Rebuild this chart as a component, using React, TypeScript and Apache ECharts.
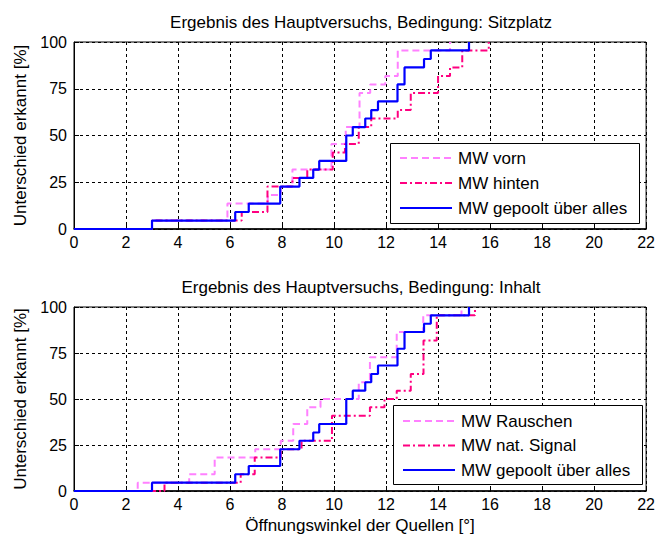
import React, { useEffect, useRef } from "react";
import * as echarts from "echarts";

// ---------- data (step corners: x where curve rises, new level in %) ----------
// Pooled curve ("MW gepoolt über alles") – identical in both panels
const pooledX = [0, 3, 6.2, 6.72, 7.93, 8.67, 9.2, 9.43, 10.47, 10.72, 11.2, 11.43, 11.69, 12.44, 12.71, 13.46, 13.72, 15.19];
const pooledY = [0, 4.5, 9.1, 13.6, 22.7, 27.3, 31.8, 36.4, 50, 54.5, 59.1, 63.6, 68.2, 77.3, 86.4, 90.9, 95.5, 100];

// Top panel: Sitzplatz
const vornX = [0, 3, 5.9, 7.45, 7.95, 8.4, 9.9, 10.45, 10.98, 11.39, 11.97, 12.45, 14.46];
const vornY = [0, 4.5, 13.6, 18.2, 22.7, 31.8, 45.5, 54.5, 72.7, 77.3, 81.8, 95.5, 100];
const hintenX = [0, 3, 6.45, 7.44, 8.4, 8.97, 9.95, 10.42, 10.95, 11.43, 12.45, 12.95, 14.0, 14.46, 14.93, 15.95];
const hintenY = [0, 4.5, 9.1, 22.7, 27.3, 31.8, 40.9, 45.5, 54.5, 59.1, 63.6, 72.7, 81.8, 86.4, 95.5, 100];

// Bottom panel: Inhalt
const rauschenX = [0, 2.45, 4.43, 5.41, 6.97, 7.95, 8.43, 8.97, 9.48, 10.95, 11.38, 12.41, 13.43, 14.9];
const rauschenY = [0, 4.5, 9.1, 18.2, 22.7, 27.3, 36.4, 45.5, 50, 59.1, 72.7, 86.4, 95.5, 100];
const signalX = [0, 3.48, 6.41, 6.95, 7.95, 8.75, 9.92, 11.38, 11.94, 12.41, 12.95, 13.44, 13.95, 15.42];
const signalY = [0, 4.5, 9.1, 18.2, 22.7, 27.3, 40.9, 45.5, 50, 54.5, 63.6, 81.8, 95.5, 100];

const titles = [
  "Ergebnis des Hauptversuchs, Bedingung: Sitzplatz",
  "Ergebnis des Hauptversuchs, Bedingung: Inhalt",
];
const yAxisName = "Unterschied erkannt [%]";
const xAxisName = "Öffnungswinkel der Quellen [°]";
const topLegend = ["MW vorn", "MW hinten", "MW gepoolt über alles"];
const bottomLegend = ["MW Rauschen", "MW nat. Signal", "MW gepoolt über alles"];

const xMin = 0, xMax = 22, xStep = 2;
const yMin = 0, yMax = 100, yStep = 25;

// ---------- styles ----------
const PINK = "#FF80FF";
const RED = "#FF0080";
const BLUE = "#0000FF";
const FONT = "'Liberation Sans', Arial, Helvetica, sans-serif";
const DASH = [7, 4];
const DASHDOT = [7, 3, 2, 3];

const pairs = (xs: number[], ys: number[]) => xs.map((x, i) => [x, ys[i]]);

export default function App() {
  const ref = useRef<HTMLDivElement>(null);

  useEffect(() => {
    const chart = echarts.init(ref.current!, null, { renderer: "svg" });

    const grids = [
      { left: 74, top: 42, width: 574, height: 187 },
      { left: 74, top: 307, width: 574, height: 184 },
    ];

    const xAxis = grids.map((_, gi) => ({
      type: "value",
      gridIndex: gi,
      min: xMin,
      max: xMax,
      interval: xStep,
      name: gi === 1 ? xAxisName : "",
      nameLocation: "middle",
      nameGap: 26,
      nameTextStyle: { fontSize: 17, color: "#000", fontFamily: FONT },
      axisLine: { show: true, onZero: false, lineStyle: { color: "#000", width: 1.5 } },
      axisTick: { show: true, inside: true, length: 5, lineStyle: { color: "#000" } },
      axisLabel: { color: "#000", fontSize: 16, fontFamily: FONT, margin: 5 },
      splitLine: { show: true, lineStyle: { color: "#000", type: [3, 3], width: 1 } },
    }));

    const yAxis = grids.map((_, gi) => ({
      type: "value",
      gridIndex: gi,
      min: yMin,
      max: yMax,
      interval: yStep,
      name: yAxisName,
      nameLocation: "middle",
      nameGap: 44,
      nameRotate: 90,
      nameTextStyle: { fontSize: 17, color: "#000", fontFamily: FONT },
      axisLine: { show: true, lineStyle: { color: "#000", width: 1 } },
      axisTick: { show: true, inside: true, length: 5, lineStyle: { color: "#000" } },
      axisLabel: { color: "#000", fontSize: 16, fontFamily: FONT, margin: 7 },
      splitLine: { show: true, lineStyle: { color: "#000", type: [3, 3], width: 1 } },
    }));

    const mk = (name: string, xs: number[], ys: number[], gi: number, color: string, dash: any, w: number) => ({
      name,
      type: "line",
      step: "end",
      xAxisIndex: gi,
      yAxisIndex: gi,
      data: pairs(xs, ys),
      showSymbol: false,
      symbol: "none",
      lineStyle: { color, width: w, type: dash },
      itemStyle: { color },
      z: 3,
    });

    const series = [
      mk(topLegend[0], vornX, vornY, 0, PINK, DASH, 2),
      mk(topLegend[1], hintenX, hintenY, 0, RED, DASHDOT, 2),
      mk(topLegend[2], pooledX, pooledY, 0, BLUE, "solid", 2.2),
      mk(bottomLegend[0], rauschenX, rauschenY, 1, PINK, DASH, 2),
      mk(bottomLegend[1], signalX, signalY, 1, RED, DASHDOT, 2),
      mk(bottomLegend[2], pooledX, pooledY, 1, BLUE, "solid", 2.2),
    ];

    const legendBox = (
      labels: string[],
      box: { x: number; y: number; w: number; h: number },
      rows: number[],
      lineX: [number, number],
      textX: number
    ) => {
      const styles = [
        { stroke: PINK, lineDash: DASH },
        { stroke: RED, lineDash: DASHDOT },
        { stroke: BLUE, lineDash: null },
      ];
      const els: any[] = [
        {
          type: "rect",
          shape: { x: box.x + 0.5, y: box.y + 0.5, width: box.w, height: box.h },
          style: { fill: "#fff", stroke: "#000", lineWidth: 1 },
          z: 100,
        },
      ];
      labels.forEach((t, i) => {
        els.push({
          type: "line",
          shape: { x1: lineX[0], y1: rows[i], x2: lineX[1], y2: rows[i] },
          style: { stroke: styles[i].stroke, lineWidth: 2, lineDash: styles[i].lineDash || undefined },
          z: 101,
        });
        els.push({
          type: "text",
          x: textX,
          y: rows[i],
          style: { text: t, fill: "#000", fontSize: 17, fontFamily: FONT, verticalAlign: "middle", align: "left" },
          z: 101,
        });
      });
      return els;
    };

    chart.setOption({
      animation: false,
      backgroundColor: "#fff",
      title: [
        {
          text: titles[0],
          left: 361,
          top: 14,
          textAlign: "center",
          padding: 0,
          textStyle: { fontSize: 17, fontWeight: "normal", color: "#000", fontFamily: FONT },
        },
        {
          text: titles[1],
          left: 361,
          top: 279,
          textAlign: "center",
          padding: 0,
          textStyle: { fontSize: 17, fontWeight: "normal", color: "#000", fontFamily: FONT },
        },
      ],
      grid: grids.map((g) => ({
        ...g,
        show: true,
        borderColor: "#000",
        borderWidth: 1,
        backgroundColor: "#fff",
        containLabel: false,
      })),
      xAxis,
      yAxis,
      series,
      graphic: [
        ...legendBox(topLegend, { x: 390, y: 143, w: 249, h: 80 }, [158, 183, 208], [400, 452], 458),
        ...legendBox(bottomLegend, { x: 393, y: 405, w: 249, h: 79 }, [421, 445.5, 470], [403, 455], 461),
      ],
    });

    return () => chart.dispose();
  }, []);

  return (
    <div
      ref={ref}
      style={{ position: "fixed", left: 0, top: 0, width: 658, height: 537, background: "#fff" }}
    />
  );
}
